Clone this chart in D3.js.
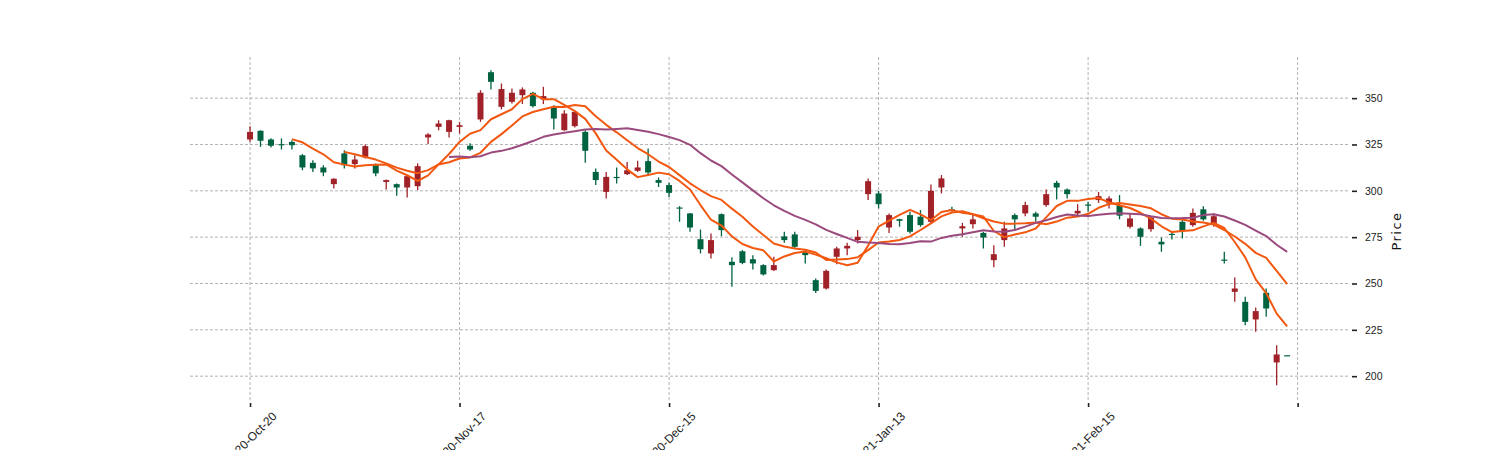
<html>
<head>
<meta charset="utf-8" />
<title>Candlestick</title>
<script src="https://cdn.jsdelivr.net/npm/d3@7"></script>
<style>
body { margin: 0; background: #fff; }
.grid line { stroke: #a0a0a0; stroke-dasharray: 3,2; stroke-width: 0.8; }
</style>
</head>
<body>
<script>

// OHLC, one entry per trading day (index 0..99)
var opens = [331.8,327.0,324.3,325.0,324.6,312.6,312.1,309.9,306.5,313.8,
  316.9,324.1,309.4,305.8,301.8,307.9,313.3,330.4,336.3,338.1,
  335.4,322.3,352.9,358.8,354.9,352.9,354.7,345.7,351.1,339.0,
  341.7,342.6,321.6,305.8,307.5,307.0,311.1,312.6,309.9,304.3,
  298.9,290.5,280.2,268.5,273.4,278.8,259.9,261.1,260.8,254.9,
  259.9,273.4,269.8,265.3,246.0,256.8,268.9,270.3,275.2,305.2,
  292.8,286.9,283.8,277.9,281.5,300.0,306.7,289.2,280.9,284.6,
  274.8,265.8,279.7,284.6,292.3,286.0,298.2,301.8,298.2,289.2,
  292.0,297.1,295.9,286.6,285.1,275.2,285.6,271.1,276.3,278.2,
  288.1,284.6,286.3,262.3,247.3,229.3,235.1,236.5,211.7,211.3];
var highs = [334.9,332.6,328.3,328.3,327.3,319.8,316.5,313.8,306.8,321.9,
  319.2,325.0,314.8,306.1,304.0,308.5,314.8,331.0,338.1,338.3,
  337.2,325.6,354.3,365.1,357.9,355.2,355.8,353.4,356.1,346.2,
  343.5,343.5,332.7,312.1,310.2,312.6,315.6,316.2,322.9,307.2,
  304.3,291.7,288.1,279.1,277.0,287.8,264.1,268.0,265.3,260.4,
  264.4,277.9,277.9,268.4,252.7,257.6,269.8,272.0,278.8,306.7,
  300.0,287.8,284.9,288.7,289.6,303.4,308.5,291.4,282.7,286.9,
  277.9,270.7,283.3,287.8,294.1,288.7,300.7,305.4,301.3,292.8,
  294.1,299.4,297.1,297.7,287.8,280.3,286.3,274.8,277.9,284.2,
  290.5,291.7,287.8,267.1,253.3,242.8,237.1,247.3,216.7,211.3];
var lows = [326.4,323.7,323.4,322.3,322.3,311.1,310.2,307.9,301.3,312.1,
  312.1,317.5,307.9,300.7,297.3,296.4,300.4,325.2,332.7,328.8,
  330.9,321.6,337.2,354.7,343.9,347.1,346.8,345.0,346.8,333.1,
  332.4,334.2,315.1,303.1,295.9,304.0,308.5,310.2,309.0,302.1,
  296.7,283.3,277.9,266.2,263.5,275.5,248.2,260.4,257.6,254.3,
  256.8,272.0,268.9,260.8,244.9,246.8,260.4,265.3,271.6,295.0,
  290.5,277.3,280.6,277.0,280.6,282.4,298.6,288.7,275.2,279.7,
  268.9,258.7,269.8,278.8,286.3,283.3,291.4,295.3,295.9,286.9,
  288.7,293.5,290.5,284.6,279.7,270.3,277.9,267.1,273.8,274.3,
  280.6,283.8,280.6,260.8,240.1,227.5,223.9,232.0,195.1,211.3];
var closes = [327.7,332.4,327.7,325.2,326.4,319.2,315.1,312.6,303.6,320.2,
  314.4,318.0,313.8,304.8,303.6,301.8,302.5,328.8,334.5,331.8,
  334.5,324.3,338.5,364.0,345.3,348.0,351.6,352.9,349.3,345.3,
  332.7,334.9,331.8,310.2,299.4,307.5,309.0,310.8,316.0,305.8,
  303.1,291.0,287.8,273.9,266.2,287.4,261.7,267.4,263.1,259.9,
  257.2,275.4,276.5,267.0,251.8,247.3,264.4,268.9,273.4,298.2,
  298.6,280.2,284.7,286.9,286.0,283.3,301.8,290.0,279.7,282.0,
  277.3,262.6,273.4,286.9,287.8,287.8,292.3,304.3,300.7,287.8,
  292.6,295.0,293.2,292.3,280.6,279.7,279.3,272.5,276.8,283.3,
  281.5,290.0,282.0,262.9,245.5,240.1,230.6,245.0,207.4,211.3];

var tickIndex = [0, 20, 40, 60, 80, 100];
var tickLabels = ["2020-Oct-20", "2020-Nov-17", "2020-Dec-15", "2021-Jan-13", "2021-Feb-15", ""];
var priceTicks = [200, 225, 250, 275, 300, 325, 350];
var mavWindows = [5, 10, 20];
var mavColors = ["#f25810", "#f25810", "#9b4a7e"];

var upColor = "#006340", downColor = "#a02128";

(function() {
	var W = 1500, H = 450;
	var pLeft = 190, pRight = 1350, pTop = 57, pBottom = 401;

	var data = opens.map(function(o, i) {
		return {i: i, open: o, high: highs[i], low: lows[i], close: closes[i]};
	});

	var svg = d3.select("body").append("svg")
		.attr("width", W).attr("height", H)
		.style("font-family", "DejaVu Sans, sans-serif");

	var x = d3.scaleLinear().domain([-5.73, 105.0]).range([pLeft, pRight]);
	var y = d3.scaleLinear().domain([186.6, 372.2]).range([pBottom, pTop]);

	// grid
	var grid = svg.append("g").attr("class", "grid");
	grid.selectAll(".gx").data(tickIndex).enter().append("line")
		.attr("x1", d => x(d)).attr("x2", d => x(d))
		.attr("y1", pTop).attr("y2", pBottom - 1);
	grid.selectAll(".gy").data(priceTicks).enter().append("line")
		.attr("x1", pLeft).attr("x2", pRight)
		.attr("y1", d => y(d)).attr("y2", d => y(d));

	// x axis ticks + rotated labels
	var xAxis = svg.append("g").attr("transform", "translate(0," + (pBottom + 2) + ")")
		.call(d3.axisBottom(x).tickValues(tickIndex).tickSize(4).tickFormat((d, k) => tickLabels[k]));
	xAxis.select(".domain").remove();
	xAxis.selectAll(".tick line").attr("stroke", "#222").attr("stroke-width", 1.6);
	xAxis.selectAll(".tick text")
		.attr("font-size", 12).attr("fill", "#222")
		.attr("text-anchor", "end")
		.attr("dy", null).attr("y", null)
		.attr("transform", "translate(27,14) rotate(-45)");

	// y axis on right
	var yAxis = svg.append("g").attr("transform", "translate(" + (pRight + 2) + ",0)")
		.call(d3.axisRight(y).tickValues(priceTicks).tickSize(5).tickPadding(8));
	yAxis.select(".domain").remove();
	yAxis.selectAll(".tick line").attr("stroke", "#222").attr("stroke-width", 1.6);
	yAxis.selectAll(".tick text").attr("font-size", 10.5).attr("fill", "#222");

	svg.append("text")
		.attr("transform", "translate(1401," + ((pTop + pBottom) / 2 + 2) + ") rotate(-90)")
		.attr("text-anchor", "middle")
		.attr("font-size", 13).attr("letter-spacing", 1.5).attr("fill", "#111")
		.text("Price");

	// candles
	var bw = 6;
	var candles = svg.append("g");
	candles.selectAll(".wick").data(data).enter().append("line")
		.attr("x1", d => x(d.i)).attr("x2", d => x(d.i))
		.attr("y1", d => y(d.high)).attr("y2", d => y(d.low))
		.attr("stroke", d => d.close >= d.open ? upColor : downColor)
		.attr("stroke-width", 1.3);
	candles.selectAll(".body").data(data).enter().append("rect")
		.attr("x", d => x(d.i) - bw / 2)
		.attr("width", bw)
		.attr("y", d => y(Math.max(d.open, d.close)))
		.attr("height", d => Math.max(1.2, Math.abs(y(d.open) - y(d.close))))
		.attr("fill", d => d.close >= d.open ? upColor : downColor);

	// moving averages of the close
	var line = d3.line().x(d => x(d[0])).y(d => y(d[1]));
	mavWindows.forEach(function(w, k) {
		var pts = [];
		for (var i = w - 1; i < closes.length; i++) {
			pts.push([i, d3.mean(closes.slice(i - w + 1, i + 1))]);
		}
		svg.append("path").datum(pts)
			.attr("fill", "none")
			.attr("stroke", mavColors[k])
			.attr("stroke-width", 2)
			.attr("stroke-linejoin", "round")
			.attr("d", line);
	});
})();

</script>
</body>
</html>
